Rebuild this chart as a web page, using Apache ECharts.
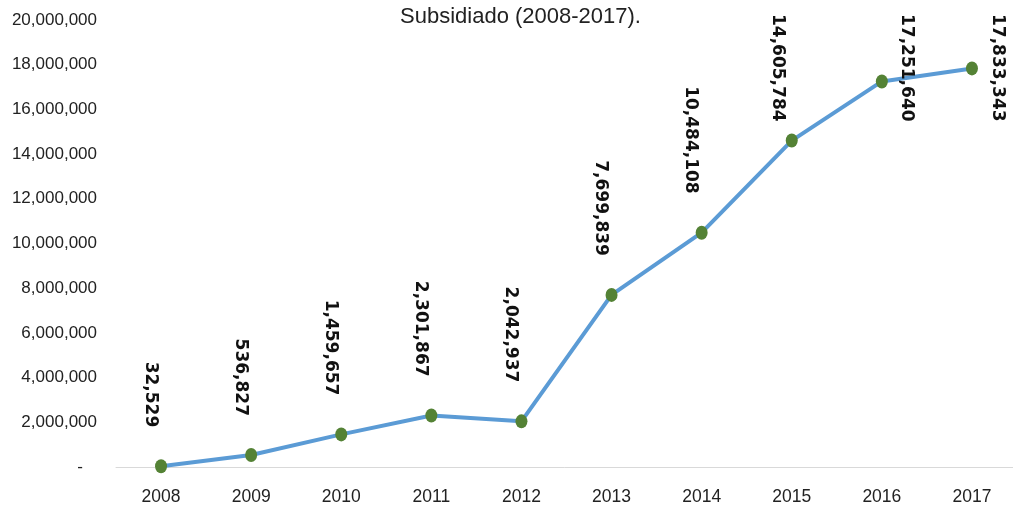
<!DOCTYPE html>
<html>
<head>
<meta charset="utf-8">
<script src="https://cdn.jsdelivr.net/npm/echarts@6/dist/echarts.min.js"></script>
<style>
  html, body { margin: 0; padding: 0; background: #fff; }
  #chart { width: 1013px; height: 511px; }
</style>
</head>
<body>
<div id="chart"></div>
<script>
// datos
var years = ["2008", "2009", "2010", "2011", "2012", "2013", "2014", "2015", "2016", "2017"];
var afiliados = [32529, 536827, 1459657, 2301867, 2042937, 7699839, 10484108, 14605784, 17251640, 17833343];
var titulo = "Subsidiado (2008-2017).";

var FONT = "'Liberation Sans', Arial, sans-serif";

function miles(v) {
  return String(v).replace(/\B(?=(\d{3})+(?!\d))/g, ",");
}

var chart = echarts.init(document.getElementById("chart"));

var option = {
  backgroundColor: "#fff",
  animation: false,
  title: {
    text: titulo,
    left: 395,
    top: 1,
    textStyle: { fontFamily: FONT, fontSize: 22, fontWeight: "normal", color: "#222" }
  },
  grid: { left: 116, width: 901, top: 20, bottom: 44, outerBoundsMode: "none", containLabel: false },
  xAxis: {
    type: "category",
    data: years,
    axisLine: { lineStyle: { color: "#d9d9d9", width: 1 } },
    axisTick: { show: false },
    axisLabel: { fontFamily: FONT, fontSize: 17.5, color: "#222", margin: 21 }
  },
  yAxis: {
    type: "value",
    min: 0,
    max: 20000000,
    interval: 2000000,
    splitLine: { show: false },
    axisLine: { show: false },
    axisTick: { show: false },
    axisLabel: {
      fontFamily: FONT, fontSize: 17, color: "#222", margin: 19,
      formatter: function (v) { return v === 0 ? "-   " : miles(v); }
    }
  },
  series: [
    {
      type: "line",
      data: afiliados,
      smooth: false,
      symbol: "circle",
      symbolSize: [12, 14],
      itemStyle: { color: "#548235" },
      lineStyle: { color: "#5b9bd5", width: 4 },
      label: {
        show: true,
        position: "top",
        distance: 32,
        rotate: -90,
        align: "right",
        verticalAlign: "middle",
        fontFamily: "'DejaVu Sans', sans-serif",
        fontWeight: "bold",
        fontSize: 17,
        color: "#111",
        formatter: function (p) { return miles(p.value); }
      },
      // dx/dy van en el marco girado de la etiqueta: dx = abajo, dy = izquierda
      // si la etiqueta se sale por arriba se baja; si entonces tapa el punto, va a su derecha
      labelLayout: function (p) {
        var r = p.labelRect;
        if (r.y < 14) {
          var down = 14 - r.y;
          if (14 + r.height > p.rect.y) {
            return { dx: down, dy: -25 };
          }
          return { dx: down, dy: 14 };
        }
        return { dy: 11 };
      }
    }
  ]
};

chart.setOption(option);
</script>
</body>
</html>
